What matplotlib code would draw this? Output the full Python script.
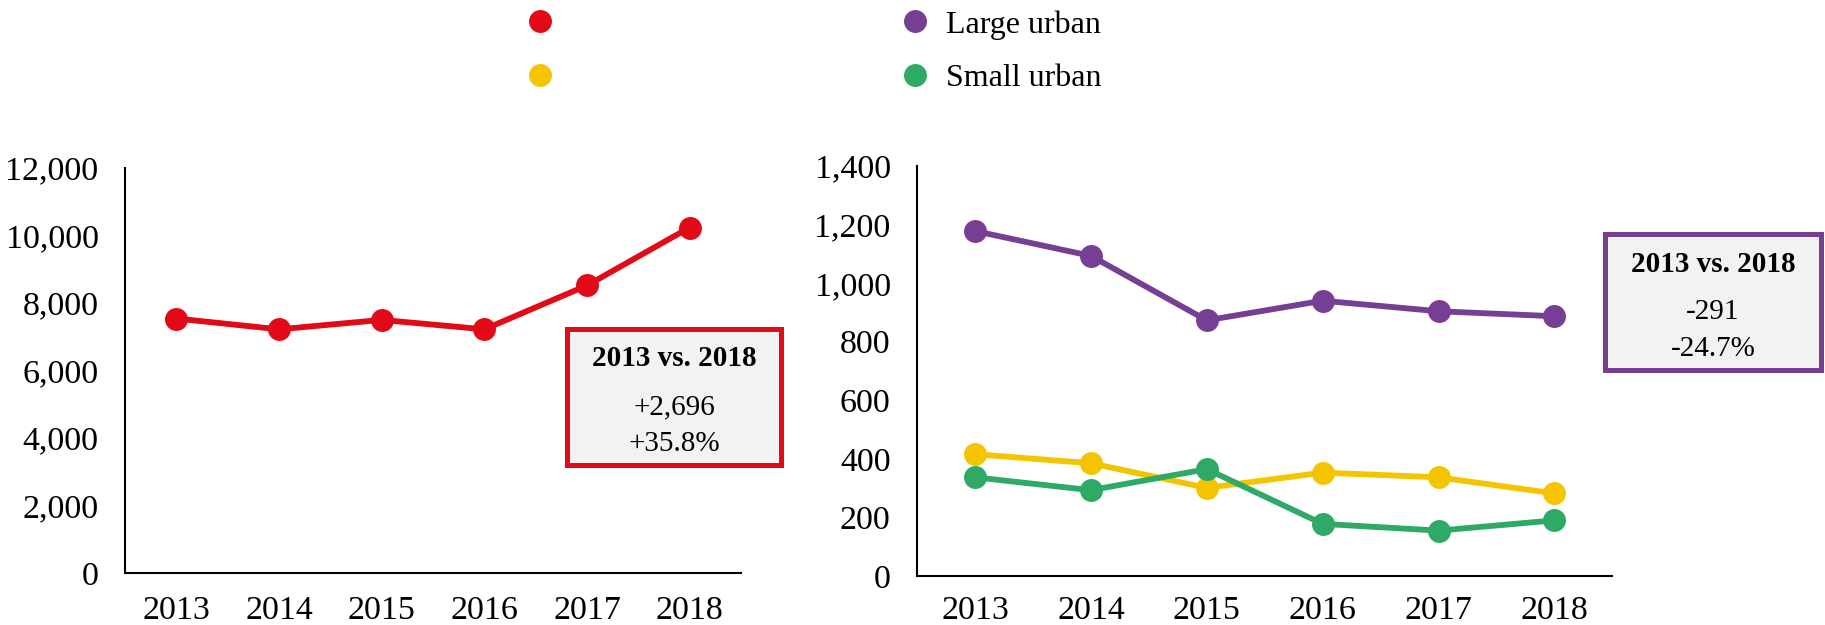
import matplotlib.pyplot as plt
from matplotlib.lines import Line2D
from matplotlib.patches import Rectangle

plt.rcParams['font.family'] = ['Liberation Serif', 'DejaVu Serif']

years = ['2013', '2014', '2015', '2016', '2017', '2018']
total = [7540, 7220, 7500, 7220, 8520, 10236]
large_urban = [1178, 1093, 873, 940, 904, 887]
medium_urban = [416, 385, 301, 353, 337, 282]
small_urban = [337, 293, 365, 178, 155, 190]

red = '#E30A17'
purple = '#763F94'
yellow = '#F5C400'
green = '#2EAA66'

fs = 21
tick_fs = 24.5
leg_fs = 23
lw = 4.2
ms = 15.5

fig = plt.figure(figsize=(18.25, 6.25), dpi=100)

ax1 = fig.add_axes([0.0685, 0.0832, 0.3375, 0.648])
ax2 = fig.add_axes([0.5025, 0.0784, 0.381, 0.656])

x = range(len(years))
ax1.plot(x, total, color=red, lw=lw, marker='o', ms=ms)
ax2.plot(x, large_urban, color=purple, lw=lw, marker='o', ms=ms)
ax2.plot(x, medium_urban, color=yellow, lw=lw, marker='o', ms=ms)
ax2.plot(x, small_urban, color=green, lw=lw, marker='o', ms=ms)

ax1.set_ylim(0, 12000)
ax1.set_yticks(range(0, 12001, 2000))
ax2.set_ylim(0, 1400)
ax2.set_yticks(range(0, 1401, 200))

for ax in (ax1, ax2):
    ax.set_xlim(-0.5, 5.5)
    ax.set_xticks(list(x))
    ax.set_xticklabels(years)
    ax.yaxis.set_major_formatter(plt.FuncFormatter(lambda v, p: f'{int(v):,}'))
    for s in ('top', 'right'):
        ax.spines[s].set_visible(False)
    for s in ('left', 'bottom'):
        ax.spines[s].set_linewidth(1.5)
    ax.tick_params(axis='both', length=0, labelsize=tick_fs)
    ax.tick_params(axis='y', pad=19)
ax1.tick_params(axis='x', pad=16)
ax2.tick_params(axis='x', pad=14)

# summary boxes (figure pixel coordinates)
W, H = 1825, 625


def summary_box(x0, y0, x1, y1, color, line1, line2):
    fig.patches.append(Rectangle((x0 / W, 1 - y1 / H), (x1 - x0) / W, (y1 - y0) / H,
                                 transform=fig.transFigure, facecolor='#F2F2F2',
                                 edgecolor=color, lw=3.6))
    cx = (x0 + x1) / 2 / W
    fig.text(cx, 1 - (y0 + 30) / H, '2013 vs. 2018', ha='center', va='center',
             fontsize=fs, fontweight='bold')
    fig.text(cx, 1 - (y0 + 78) / H, line1, ha='center', va='center', fontsize=fs)
    fig.text(cx, 1 - (y0 + 115) / H, line2, ha='center', va='center', fontsize=fs)


summary_box(567, 329, 781, 465, red, '+2,696', '+35.8%')
summary_box(1605, 234, 1821, 370, purple, '-291', '-24.7%')

handles = [Line2D([], [], ls='none', marker='o', ms=ms, color=c)
           for c in (red, yellow, purple, green)]
labels = ['', '', 'Large urban', 'Small urban']
fig.legend(handles, labels, ncol=2, frameon=False, fontsize=leg_fs,
           loc='upper left', bbox_to_anchor=(0.2714, 1.03),
           handlelength=1.0, handletextpad=0.45, columnspacing=10.3,
           labelspacing=0.77)

fig.savefig('out.png')
